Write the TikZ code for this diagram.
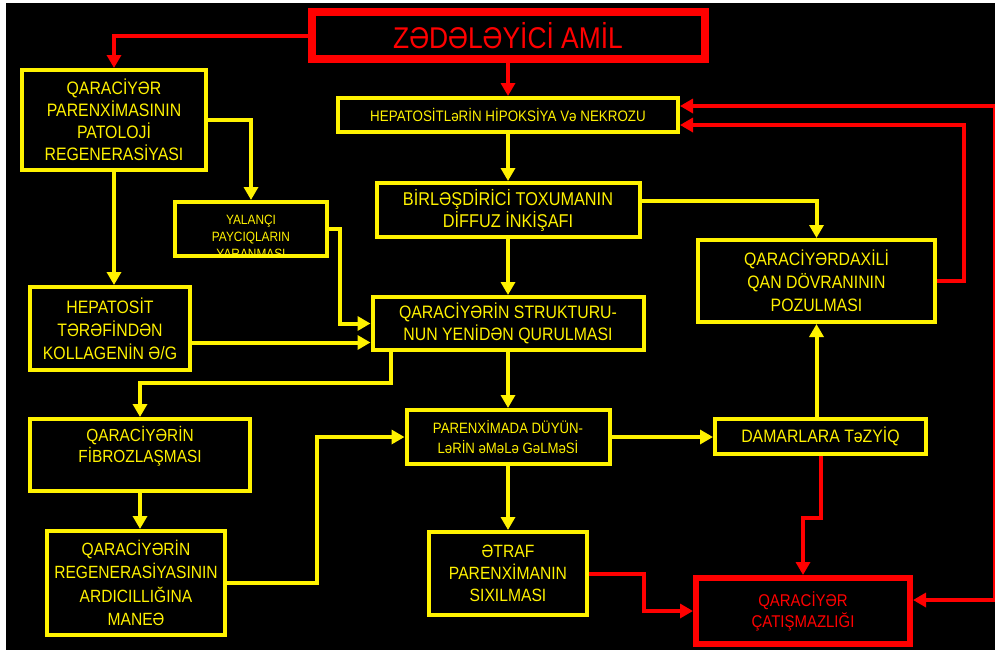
\documentclass[tikz,border=0pt]{standalone}
\usepackage{fontspec}
\setmainfont[FakeStretch=0.88]{Liberation Sans}
\usepackage{tikz}
\usetikzlibrary{arrows.meta,calc}

\tikzset{
  ybox/.style={draw=yellow, line width=4pt, text=yellow, align=center, inner sep=0pt},
  rbox/.style={draw=red, text=red, align=center, inner sep=0pt},
  yarr/.style={draw=yellow, line width=4pt, -{Triangle[length=13pt,width=14pt]}},
  rarr/.style={draw=red, line width=4pt, -{Triangle[length=13pt,width=14pt]}},
  rboth/.style={draw=red, line width=4pt, {Triangle[length=13pt,width=14pt]}-{Triangle[length=13pt,width=14pt]}},
}
\newcommand{\fs}[2]{\fontsize{#1}{#2}\selectfont}

\begin{document}
\begin{tikzpicture}[x=1pt,y=-1pt]
\useasboundingbox (0,0) rectangle (995,654);
\fill[white] (0,0) rectangle (995,654);
\fill[black] (6,3) rectangle (995,650);

\node[rbox, line width=8pt, minimum width=393pt, minimum height=47pt, font=\fs{30}{36}] (zam) at (508,35.5) {ZƏDƏLƏYİCİ AMİL};
\node[ybox, minimum width=184pt, minimum height=100pt, font=\fs{18}{22}] (pat) at (114,120) {QARACİYƏR\\PARENXİMASININ\\PATOLOJİ\\REGENERASİYASI};
\node[ybox, minimum width=340pt, minimum height=34pt, font=\fs{15.2}{17}] (hip) at (508,115) {HEPATOSİTLəRİN HİPOKSİYA Və NEKROZU};
\node[ybox, minimum width=152pt, minimum height=54pt] (yal) at (251,229) {};
\begin{scope}
\clip ([shift={(2,-2)}]yal.south west) rectangle ([shift={(-2,2)}]yal.north east);
\node[text=yellow, align=center, font=\fs{13.5}{17}] (yaltxt) at ([yshift=-8pt]yal.center) {YALANÇI\\PAYCIQLARIN\\YARANMASI};
\end{scope}
\node[ybox, minimum width=263pt, minimum height=54pt, font=\fs{18.5}{22}] (birl) at (508,210) {BİRLƏŞDİRİCİ TOXUMANIN\\DİFFUZ İNKİŞAFI};
\node[ybox, minimum width=271pt, minimum height=53pt, font=\fs{18}{22}] (qstr) at (508,323.5) {QARACİYƏRİN STRUKTURU-\\NUN YENİDƏN QURULMASI};
\node[ybox, minimum width=160pt, minimum height=83pt, font=\fs{18}{23}] (hep) at (110,328.5) {HEPATOSİT\\TƏRƏFİNDƏN\\KOLLAGENİN Ə/G};
\node[ybox, minimum width=237pt, minimum height=82pt, font=\fs{18}{23}] (qdax) at (816.5,281) {QARACİYƏRDAXİLİ\\QAN DÖVRANININ\\POZULMASI};
\node[ybox, minimum width=220pt, minimum height=72pt, font=\fs{17.5}{21}] (fib) at (140,455) {QARACİYƏRİN\\FİBROZLAŞMASI\\~};
\node[ybox, minimum width=178pt, minimum height=104pt, font=\fs{17.7}{23.5}] (reg) at (136,583) {QARACİYƏRİN\\REGENERASİYASININ\\ARDICILLIĞINA\\MANEƏ};
\node[ybox, minimum width=203pt, minimum height=54pt, font=\fs{15}{20}] (par) at (508,437) {PARENXİMADA DÜYÜN-\\LəRİN əMəLə GəLMəSİ};
\node[ybox, minimum width=211pt, minimum height=35pt, font=\fs{18}{22}] (dam) at (820.5,436.5) {DAMARLARA TəZYİQ};
\node[ybox, minimum width=158pt, minimum height=83pt, font=\fs{17.8}{22}] (etr) at (508,573.5) {ƏTRAF\\PARENXİMANIN\\SIXILMASI};
\node[rbox, line width=6pt, minimum width=214pt, minimum height=66pt, font=\fs{17}{21}] (cat) at (803,611) {QARACİYƏR\\ÇATIŞMAZLIĞI};

\draw[rarr] (zam.west) -| (pat.north);
\draw[rarr] (zam.south) -- (hip.north);
\draw[yarr] (pat.east) -| (yal.north);
\draw[yarr] (pat.south) -- (pat.south |- hep.north);
\draw[yarr] (yal.east) -- ++(11,0) |- (qstr.west);
\draw[yarr] ([yshift=-14pt]hep.east) -- ([yshift=-14pt]hep.east -| qstr.west);
\draw[yarr] (hip.south) -- (birl.north);
\draw[yarr] ([yshift=9pt]birl.east) -| (qdax.north);
\draw[yarr] (birl.south) -- (qstr.north);
\draw[yarr] (qstr.south) -- (par.north);
\draw[yarr] ([xshift=20pt]qstr.south west) -- ++(0,31) -| (fib.north);
\draw[yarr] (fib.south) -- (fib.south |- reg.north);
\draw[yarr] (reg.east) -- ++(90,0) |- (par.west);
\draw[yarr] (par.east) -- (par.east -| dam.west);
\draw[yarr] (dam.north -| qdax.south) -- (qdax.south);
\draw[yarr] (par.south) -- (etr.north);
\draw[rarr] (qdax.east) -- ++(27,0) |- ([yshift=-10pt]hip.east);
\draw[rboth] ([yshift=11pt]cat.east) -- ++(82,0) |- ([yshift=9pt]hip.east);
\draw[rarr] (dam.south) -- ++(0,62) -| (cat.north);
\draw[rarr] (etr.east) -- ++(55,0) |- (cat.west);
\end{tikzpicture}
\end{document}
